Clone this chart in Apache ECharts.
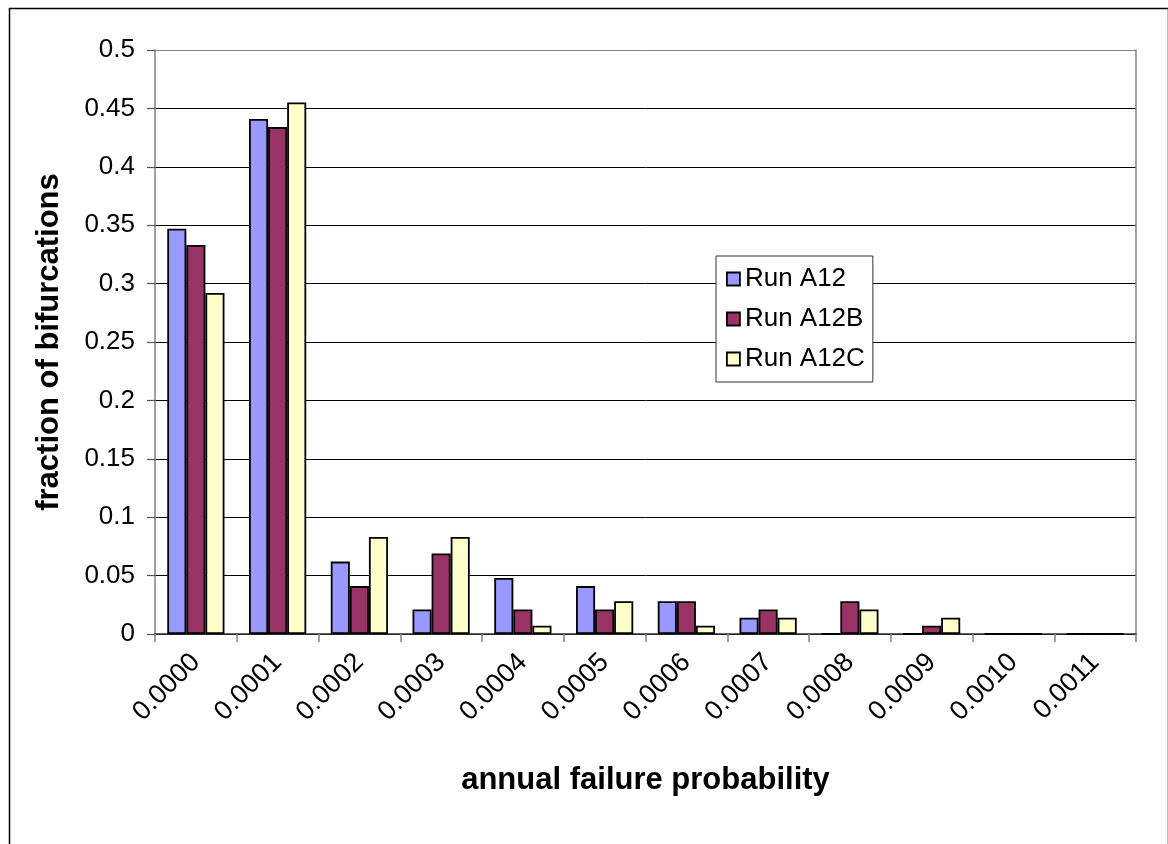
<!DOCTYPE html>
<html>
<head>
<meta charset="utf-8">
<script src="https://cdn.jsdelivr.net/npm/echarts@6/dist/echarts.min.js"></script>
<style>
  html, body { margin: 0; padding: 0; background: #ffffff; }
  #chart { width: 1168px; height: 844px; }
</style>
</head>
<body>
<div id="chart"></div>
<script>
// Annual failure probability bins (category axis labels)
const categories = ['0.0000', '0.0001', '0.0002', '0.0003', '0.0004', '0.0005',
                    '0.0006', '0.0007', '0.0008', '0.0009', '0.0010', '0.0011'];

// Fraction of bifurcations falling in each bin, per run
const runA12  = [0.347, 0.441, 0.062, 0.021, 0.048, 0.041, 0.028, 0.014, 0.000, 0.000, 0, 0];
const runA12B = [0.333, 0.434, 0.041, 0.069, 0.021, 0.021, 0.028, 0.021, 0.028, 0.007, 0, 0];
const runA12C = [0.292, 0.455, 0.083, 0.083, 0.007, 0.028, 0.007, 0.014, 0.021, 0.014, 0, 0];

const seriesNames = ['Run A12', 'Run A12B', 'Run A12C'];
const seriesData = [runA12, runA12B, runA12C];
const seriesColors = ['#9999FF', '#993366', '#FFFFCC'];

const FONT = '"Liberation Sans", Arial, Helvetica, sans-serif';

const chart = echarts.init(document.getElementById('chart'), null, { renderer: 'canvas' });

// Gridlines are black; the top edge of the plot frame is grey
const gridColors = Array.from({ length: 11 }, (_, i) => (i === 10 ? '#808080' : '#000000'));

chart.setOption({
  backgroundColor: '#ffffff',
  animation: false,
  textStyle: { fontFamily: FONT },
  graphic: [{
    type: 'rect',
    left: 7, top: 6,
    shape: { width: 1159, height: 900 },
    style: { fill: 'none', stroke: '#000000', lineWidth: 1.5 },
    silent: true
  }],
  grid: { left: 155, right: 32, top: 50, bottom: 210, outerBoundsMode: 'none' },
  legend: {
    orient: 'vertical',
    left: 716, top: 256,
    data: seriesNames,
    backgroundColor: '#ffffff',
    borderColor: '#333333',
    borderWidth: 1,
    padding: [9, 8, 9, 10],
    itemWidth: 13, itemHeight: 13,
    itemGap: 12,
    icon: 'rect',
    itemStyle: { borderColor: '#000000', borderWidth: 1.8 },
    textStyle: { fontFamily: FONT, fontSize: 26, color: '#000000', lineHeight: 28 }
  },
  xAxis: {
    type: 'category',
    data: categories,
    name: 'annual failure probability',
    nameLocation: 'middle',
    nameGap: 131,
    nameTextStyle: { fontFamily: FONT, fontSize: 31, fontWeight: 'bold', color: '#000000' },
    axisLine: { lineStyle: { color: '#333333', width: 1.5 } },
    axisTick: { show: true, alignWithLabel: false, interval: 0, length: 8, lineStyle: { color: '#808080', width: 1.5 } },
    axisLabel: { interval: 0, rotate: 45, margin: 24, fontFamily: FONT, fontSize: 27, color: '#000000' },
    splitLine: { show: false }
  },
  yAxis: [{
    type: 'value',
    min: 0, max: 0.5, interval: 0.05,
    name: 'fraction of bifurcations',
    nameLocation: 'middle',
    nameGap: 90,
    nameTextStyle: { fontFamily: FONT, fontSize: 31, fontWeight: 'bold', color: '#000000' },
    axisLine: { show: true, lineStyle: { color: '#808080', width: 1.5 } },
    axisTick: { show: true, inside: false, length: 8, lineStyle: { color: '#555555', width: 1.2 } },
    axisLabel: {
      margin: 20, fontFamily: FONT, fontSize: 26, color: '#000000',
      formatter: v => String(+v.toFixed(2))
    },
    splitLine: { show: true, lineStyle: { color: gridColors, width: 1 } }
  }, {
    // right edge of the plot frame
    type: 'value',
    position: 'right',
    min: 0, max: 0.5, interval: 0.05,
    axisLine: { show: true, lineStyle: { color: '#808080', width: 1.5 } },
    axisTick: { show: false },
    axisLabel: { show: false },
    splitLine: { show: false }
  }],
  series: seriesNames.map((name, i) => ({
    name,
    type: 'bar',
    data: seriesData[i],
    barGap: '0%',
    barCategoryGap: '30%',
    itemStyle: { color: seriesColors[i], borderColor: '#000000', borderWidth: 1.8 }
  }))
});
</script>
</body>
</html>
